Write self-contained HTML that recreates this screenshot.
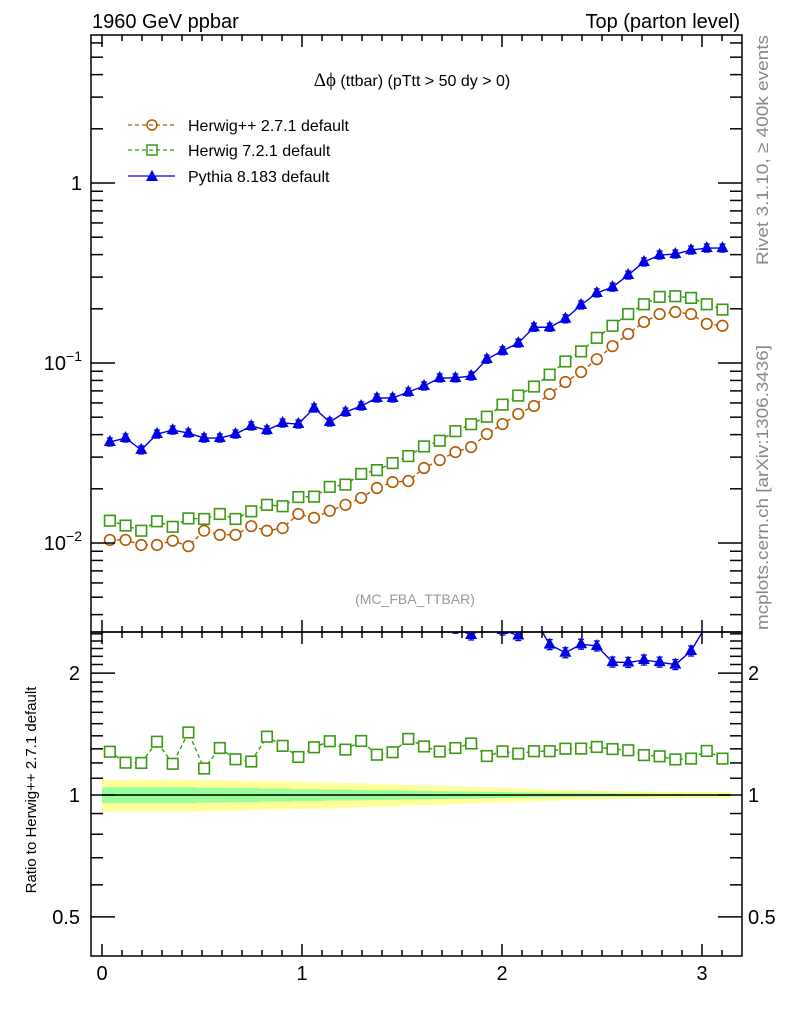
<!DOCTYPE html>
<html><head><meta charset="utf-8"><style>
body{margin:0;background:#fff;}
svg{display:block;font-family:"Liberation Sans",sans-serif;}
</style></head><body>
<svg id="c" width="786" height="1024" viewBox="0 0 786 1024" xmlns="http://www.w3.org/2000/svg">
<text x="92" y="28" font-size="20">1960 GeV ppbar</text>
<text x="740" y="28" font-size="20" text-anchor="end">Top (parton level)</text>
<text x="412" y="86" font-size="16" text-anchor="middle"><tspan font-family="Liberation Serif" font-size="19">Δϕ</tspan> (ttbar) (pTtt &gt; 50 dy &gt; 0)</text>
<text x="415" y="604" font-size="14" fill="#999" text-anchor="middle">(MC_FBA_TTBAR)</text>
<text transform="translate(768,265) rotate(-90)" font-size="17" fill="#888" textLength="230" lengthAdjust="spacingAndGlyphs">Rivet 3.1.10, ≥ 400k events</text>
<text transform="translate(768,630) rotate(-90)" font-size="17" fill="#888" textLength="285" lengthAdjust="spacingAndGlyphs">mcplots.cern.ch [arXiv:1306.3436]</text>
<text transform="translate(36,790) rotate(-90)" font-size="15" text-anchor="middle">Ratio to Herwig++ 2.7.1 default</text>
<g>
 <g><line x1="128" y1="125" x2="175" y2="125" stroke="#b35900" stroke-dasharray="4,3" stroke-width="1.3"/><circle cx="152" cy="125" r="5" fill="none" stroke="#b35900" stroke-width="1.5"/><text x="188" y="131" font-size="16">Herwig++ 2.7.1 default</text></g>
 <g><line x1="128" y1="150" x2="175" y2="150" stroke="#3a9a14" stroke-dasharray="4,3" stroke-width="1.3"/><rect x="147" y="145" width="10" height="10" fill="none" stroke="#3a9a14" stroke-width="1.5"/><text x="188" y="156" font-size="16">Herwig 7.2.1 default</text></g>
 <g><line x1="128" y1="176" x2="175" y2="176" stroke="#0000e6" stroke-width="1.3"/><polygon points="152,170 158,181 146,181" fill="#0000e6"/><text x="188" y="182" font-size="16">Pythia 8.183 default</text></g>
</g>
<g id="plots"></g>
</svg>
<script>
const herwigpp=[0.0104,0.0104,0.00975,0.00975,0.0103,0.0096,0.0117,0.0111,0.0111,0.0124,0.0117,0.0121,0.0145,0.0138,0.0151,0.0163,0.0178,0.0202,0.0218,0.0221,0.0261,0.0289,0.0320,0.0341,0.0403,0.0458,0.0521,0.0577,0.0672,0.0784,0.0891,0.105,0.124,0.145,0.169,0.187,0.192,0.187,0.165,0.161];
const herwig7=[0.0133,0.0125,0.0117,0.0132,0.0123,0.0137,0.0136,0.0145,0.0136,0.0150,0.0163,0.0160,0.0180,0.0181,0.0205,0.0211,0.0242,0.0254,0.0278,0.0304,0.0344,0.0370,0.0418,0.0457,0.0503,0.0587,0.0659,0.0740,0.0862,0.102,0.116,0.138,0.161,0.187,0.212,0.233,0.235,0.230,0.212,0.198];
const pythia=[0.0364,0.0383,0.0329,0.0403,0.0424,0.0408,0.0383,0.0383,0.0403,0.0447,0.0424,0.0464,0.0458,0.0562,0.0470,0.0534,0.0577,0.0639,0.0639,0.0690,0.0745,0.0826,0.0826,0.0847,0.105,0.117,0.129,0.158,0.158,0.176,0.210,0.245,0.264,0.308,0.364,0.398,0.403,0.424,0.435,0.435];
const bandInner=[0.045,0.045,0.045,0.045,0.045,0.045,0.042,0.042,0.04,0.04,0.037,0.037,0.034,0.034,0.031,0.031,0.03,0.028,0.027,0.025,0.024,0.022,0.021,0.02,0.018,0.017,0.015,0.014,0.013,0.012,0.011,0.01,0.009,0.008,0.008,0.007,0.007,0.006,0.006,0.006];
const bandOuter=[0.09,0.09,0.09,0.09,0.09,0.09,0.087,0.087,0.085,0.082,0.08,0.08,0.076,0.075,0.074,0.07,0.068,0.064,0.062,0.058,0.056,0.053,0.05,0.047,0.044,0.041,0.038,0.035,0.032,0.029,0.027,0.025,0.023,0.021,0.02,0.019,0.018,0.017,0.016,0.016];
const xTicks=[0,1,2,3];
const mainTicks=[{v:1,l:"1"},{v:0.1,l:"10",e:"−1"},{v:0.01,l:"10",e:"−2"}];
const ratioTicks=[{v:2,l:"2"},{v:1,l:"1"},{v:0.5,l:"0.5"}];
const NS="http://www.w3.org/2000/svg";
const L=91,R=742,T=35,MB=632,RB=956;
const N=40,W=Math.PI/N;
const xs=v=>102+200*v;
const ym=v=>543-180*(Math.log10(v)+2);
const yr=v=>795-405*Math.log10(v);
const g=document.getElementById('plots');
function mk(tag,at,parent){const e=document.createElementNS(NS,tag);for(const k in at)e.setAttribute(k,at[k]);(parent||g).appendChild(e);return e;}
const bo=mk('g',{});


const bi=mk('g',{});


for(let i=0;i<N;i++){
 const x0=xs(i*W),x1=xs((i+1)*W);
 mk('rect',{x:x0,y:yr(1+bandOuter[i]),width:x1-x0+0.5,height:yr(1-bandOuter[i])-yr(1+bandOuter[i]),fill:'#ffff99'},bo);
 mk('rect',{x:x0,y:yr(1+bandInner[i]),width:x1-x0+0.5,height:yr(1-bandInner[i])-yr(1+bandInner[i]),fill:'#99ff99'},bi);
}
mk('line',{x1:xs(0),x2:xs(Math.PI),y1:yr(1),y2:yr(1),stroke:'#000','stroke-width':1.5});
const defs=mk('defs',{});
const c1=mk('clipPath',{id:'cm'},defs);mk('rect',{x:L,y:T,width:R-L,height:MB-T},c1);
const c2=mk('clipPath',{id:'cr'},defs);mk('rect',{x:L,y:MB,width:R-L,height:RB-MB},c2);
function series(vals,yf,color,dash,marker,name,clip,err){
 const grp=mk('g',{'clip-path':'url(#'+clip+')'});
 
 
 let d='';
 vals.forEach((v,i)=>{d+=(i?'L':'M')+xs((i+0.5)*W)+','+yf(v);});
 const p=mk('path',{d:d,fill:'none',stroke:color,'stroke-width':1.4},grp);
 if(dash)p.setAttribute('stroke-dasharray',dash);
 vals.forEach((v,i)=>{
  const x=xs((i+0.5)*W),y=yf(v);
  if(err){mk('line',{x1:x,x2:x,y1:y-err,y2:y+err,stroke:color,'stroke-width':1.3},grp);mk('line',{x1:x-3,x2:x+3,y1:y-err,y2:y-err,stroke:color,'stroke-width':1.3},grp);mk('line',{x1:x-3,x2:x+3,y1:y+err,y2:y+err,stroke:color,'stroke-width':1.3},grp);}
  let m;
  if(marker==='c')m=mk('circle',{cx:x,cy:y,r:5.3,fill:'#fff',stroke:color,'stroke-width':1.6},grp);
  else if(marker==='s')m=mk('rect',{x:x-5.3,y:y-5.3,width:10.6,height:10.6,fill:'#fff',stroke:color,'stroke-width':1.6},grp);
  else m=mk('polygon',{points:`${x},${y-7} ${x+6},${y+4} ${x-6},${y+4}`,fill:color},grp);
  
  
 });
}
series(herwigpp,ym,'#b35900','4,3','c','herwigpp-series','cm',0);
series(herwig7,ym,'#3a9a14','4,3','s','herwig7-series','cm',0);
series(pythia,ym,'#0000e6',null,'t','pythia-series','cm',4);
series(herwig7.map((v,i)=>v/herwigpp[i]),yr,'#3a9a14','4,3','s','herwig7-ratio','cr',5);
series(pythia.map((v,i)=>v/herwigpp[i]),yr,'#0000e6',null,'t','pythia-ratio','cr',5);
const ax=mk('g',{stroke:'#000','stroke-width':1.5,fill:'none'});


mk('rect',{x:L,y:T,width:R-L,height:MB-T},ax);
mk('rect',{x:L,y:MB,width:R-L,height:RB-MB},ax);
for(let k=0;k<=31;k++){
 const v=k/10,x=xs(v),len=(k%10===0)?12:6;
 for(const [yb,yt] of [[MB,T],[RB,MB]]){
  mk('line',{x1:x,x2:x,y1:yb,y2:yb-len},ax);
  mk('line',{x1:x,x2:x,y1:yt,y2:yt+len},ax);
 }
}
xTicks.forEach(v=>{const t=mk('text',{x:xs(v),y:980,'font-size':20,'text-anchor':'middle'});t.textContent=v;
 
 });
for(let e=-3;e<=0;e++){for(let m=1;m<=9;m++){const v=m*Math.pow(10,e),y=ym(v);if(y<T||y>MB)continue;const len=m===1?24:12;
 mk('line',{x1:L,x2:L+len,y1:y,y2:y},ax);mk('line',{x1:R,x2:R-len,y1:y,y2:y},ax);}}
mainTicks.forEach(o=>{const t=mk('text',{x:82,y:ym(o.v)+7,'font-size':20,'text-anchor':'end'});
 if(o.e){t.textContent=o.l;const s=mk('tspan',{dy:-9,'font-size':14},t);s.textContent=o.e;}else t.textContent=o.l;
 
 });
for(let v=0.4;v<=2.55;v+=0.1){const y=yr(v);if(y<MB||y>RB)continue;const major=Math.abs(v-1)<1e-6||Math.abs(v-2)<1e-6||Math.abs(v-0.5)<1e-6;const len=major?24:12;
 mk('line',{x1:L,x2:L+len,y1:y,y2:y},ax);mk('line',{x1:R,x2:R-len,y1:y,y2:y},ax);}
ratioTicks.forEach(o=>{
 const t=mk('text',{x:80,y:yr(o.v)+7,'font-size':20,'text-anchor':'end'});t.textContent=o.l;
 
 
 const t2=mk('text',{x:748,y:yr(o.v)+7,'font-size':20});t2.textContent=o.l;
 
 
});
</script>
</body></html>
